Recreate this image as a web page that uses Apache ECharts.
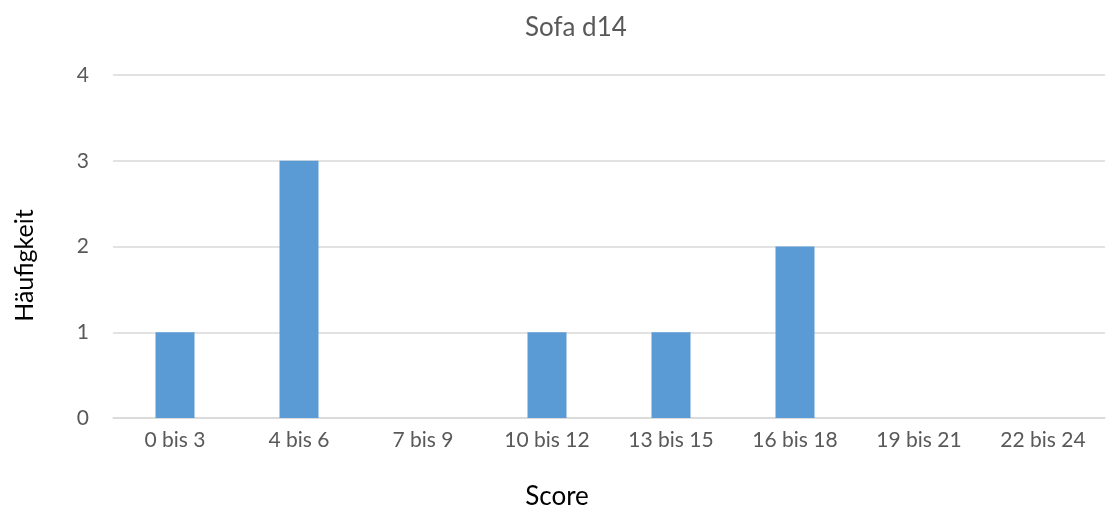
<!DOCTYPE html>
<html>
<head>
<meta charset="utf-8">
<style>
  html, body { margin: 0; padding: 0; background: #fff; }
  #chart { width: 1107px; height: 513px; }
</style>
<script src="https://cdn.jsdelivr.net/npm/echarts@6/dist/echarts.min.js"></script>
</head>
<body>
<div id="chart"></div>
<script>
// Score ranges and how often each occurred
const categories = ['0 bis 3', '4 bis 6', '7 bis 9', '10 bis 12', '13 bis 15', '16 bis 18', '19 bis 21', '22 bis 24'];
const counts = [1, 3, 0, 1, 1, 2, 0, 0];
const chartTitle = 'Sofa d14';
const xName = 'Score';
const yName = 'Häufigkeit';

const font = 'Lato, "Open Sans", sans-serif';
const chart = echarts.init(document.getElementById('chart'), null, { renderer: 'canvas' });

chart.setOption({
  animation: false,
  backgroundColor: '#ffffff',
  title: {
    text: chartTitle,
    left: 520,
    top: 10,
    textStyle: { fontFamily: font, fontSize: 26, fontWeight: 'normal', color: '#595959' }
  },
  grid: { left: 113, right: 2, top: 75, bottom: 95, containLabel: false, outerBoundsMode: 'none' },
  xAxis: {
    type: 'category',
    data: categories,
    name: xName,
    nameLocation: 'middle',
    nameGap: 66,
    // the name sits centred on the whole chart rather than on the plot area
    nameTextStyle: { fontFamily: font, fontSize: 26, color: '#000000', padding: [0, 104, 0, 0] },
    axisLine: { show: true, lineStyle: { color: '#D9D9D9', width: 1.5 } },
    axisTick: { show: false },
    axisLabel: { fontFamily: font, fontSize: 21, color: '#595959', margin: 12 }
  },
  yAxis: {
    type: 'value',
    min: 0,
    max: 4,
    interval: 1,
    name: yName,
    nameLocation: 'middle',
    nameGap: 76,
    nameRotate: 90,
    nameTextStyle: { fontFamily: font, fontSize: 25, color: '#000000', padding: [0, 38, 0, 0] },
    axisLine: { show: false },
    axisTick: { show: false },
    axisLabel: { fontFamily: font, fontSize: 21, color: '#595959', margin: 24 },
    splitLine: { lineStyle: { color: '#D9D9D9', width: 1.5 } }
  },
  series: [{
    type: 'bar',
    data: counts,
    barWidth: 39,
    itemStyle: { color: '#5B9BD5' }
  }]
});
</script>
</body>
</html>
